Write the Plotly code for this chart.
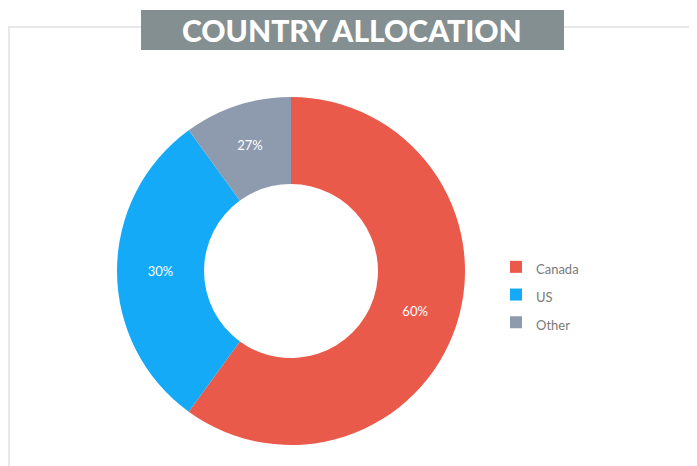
import plotly.graph_objects as go

categories = ["Canada", "US", "Other"]
values = [60, 30, 10]
value_labels = ["60%", "30%", "27%"]
colors = ["#e95a4a", "#14aaf7", "#8e9bae"]
title_text = "COUNTRY ALLOCATION"

W, H = 697, 466
OFF = 8  # page body margin


def px(x):
    return (x - OFF) / W


def py(y):
    return 1 - (y - OFF) / H


legend_names = [f"<span style='font-size:13px'>{c}</span>" for c in categories]

fig = go.Figure()
fig.add_trace(go.Pie(
    labels=legend_names,
    values=values,
    text=value_labels,
    textinfo="text",
    textposition="inside",
    insidetextorientation="horizontal",
    textfont=dict(family="Lato", size=13, color="white"),
    marker=dict(colors=colors, line=dict(width=0)),
    hole=0.5,
    sort=False,
    direction="clockwise",
    rotation=0,
    domain=dict(x=[px(117), px(465)], y=[py(445), py(97)]),
    hoverinfo="label+percent",
))

fig.update_layout(
    width=W, height=H,
    margin=dict(l=0, r=0, t=0, b=0),
    paper_bgcolor="white",
    plot_bgcolor="white",
    showlegend=True,
    legend=dict(
        x=px(496), y=py(248), xanchor="left", yanchor="top",
        font=dict(family="Lato", size=19, color="#7a7a7a"),
        bgcolor="rgba(0,0,0,0)",
    ),
    shapes=[
        dict(type="rect", xref="paper", yref="paper",
             x0=px(9), x1=px(695), y0=-0.05, y1=py(27),
             line=dict(color="#e6e9e8", width=2), fillcolor="rgba(0,0,0,0)", layer="below"),
        dict(type="rect", xref="paper", yref="paper",
             x0=px(141), x1=px(564), y0=py(50), y1=py(10),
             line=dict(width=0), fillcolor="#848f92"),
    ],
    annotations=[
        dict(text=title_text, xref="paper", yref="paper",
             x=px(352), y=py(30), xanchor="center", yanchor="middle",
             showarrow=False,
             font=dict(family="Lato", size=30, color="white", weight=900)),
    ],
)

fig.write_html("out.html")
